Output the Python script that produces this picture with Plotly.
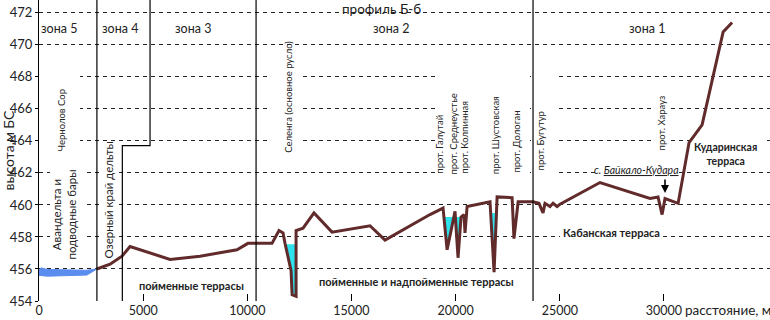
import plotly.graph_objects as go

# ---------------- data ----------------
# river profile: distance (m) and elevation (m, Baltic system)
dist = [2780, 3410, 3985, 4370, 6290, 7730, 9505, 10030, 11185, 11520, 11715, 11810,
        12100, 12150, 12340, 12340, 12675, 13200, 14065, 15890, 16610, 18770, 19395,
        19590, 19970, 20115, 20260, 20400, 20450, 20550, 21650, 21845, 21990, 22710,
        22800, 23000, 23715, 24000, 24195, 24290, 24530, 24675, 24870, 25010, 26930,
        29330, 29715, 29910, 30050, 30680, 31205, 31830, 32840, 33270]
elev = [456.0, 456.3, 456.8, 457.4, 456.6, 456.8, 457.2, 457.6, 457.6, 458.4, 458.25, 457.6,
        455.9, 454.4, 454.3, 458.4, 458.55, 459.5, 458.3, 458.7, 457.8, 459.4, 459.8,
        457.2, 459.6, 456.7, 459.25, 459.4, 458.25, 459.9, 460.2, 455.8, 460.5, 460.45,
        457.9, 460.2, 460.2, 460.1, 459.5, 460.1, 459.9, 460.1, 459.9, 460.05, 461.4,
        460.4, 460.5, 459.4, 460.4, 460.1, 463.9, 465.0, 470.8, 471.4]

# water in channels (cyan polygons)
selenga_x = [11800, 12100, 12150, 12340, 12340]
selenga_y = [457.55, 455.9, 454.4, 454.3, 457.55]
galutai_x = [19436, 19590, 19915]
galutai_y = [459.25, 457.2, 459.25]
sredn_x = [19987, 20115, 20260]
sredn_y = [459.25, 456.7, 459.25]
shust_x = [21681, 21845, 21959]
shust_y = [459.5, 455.8, 459.5]

# avandelta (blue body)
avan_x = [0, 100, 400, 2300, 2780, 2300, 400, 150, 0]
avan_y = [455.95, 456.07, 455.97, 455.92, 456.0, 455.62, 455.55, 455.6, 455.6]

# zone boundaries (distance, m)
zone_bounds = [2780, 10420, 23715]
zone4_step_x = [4000, 4000, 5330, 5330]
zone4_step_y = [454, 463.7, 463.7, 473]

zone_names = ["зона 5", "зона 4", "зона 3", "зона 2", "зона 1"]
zone_label_x = [960, 3890, 7400, 16900, 29200]

x_ticks = [0, 5000, 10000, 15000, 20000, 25000, 30000]
y_ticks = [454, 456, 458, 460, 462, 464, 466, 468, 470, 472]

FONT = "Lato"
TXT = "#222222"
LINE = "#622b2b"
Y_TOP = 472.8

fig = go.Figure()

# white boxes behind texts (interrupt the dotted gridlines)
boxes = [(0, 1970, 463.5, 468.6), (530, 2210, 457.5, 462.4), (3020, 3650, 457.9, 462.4),
         (11090, 12620, 463.5, 468.6), (19010, 23570, 461.5, 468.6),
         (23760, 24910, 461.5, 468.6), (29500, 30180, 463.2, 466.9),
         (31250, 34850, 462.6, 464.3), (25010, 29900, 457.7, 458.8),
         (26740, 30670, 461.6, 462.6)]
for x0, x1, y0, y1 in boxes:
    fig.add_trace(go.Scatter(x=[x0, x1, x1, x0, x0], y=[y0, y0, y1, y1, y0], fill="toself",
                             mode="none", fillcolor="white", hoverinfo="skip", showlegend=False))

fig.add_trace(go.Scatter(x=avan_x, y=avan_y, fill="toself", mode="lines",
                         fillcolor="#5b8def", line=dict(color="#5b8def", width=1),
                         hoverinfo="skip", showlegend=False))
for cx, cy in [(selenga_x, selenga_y), (galutai_x, galutai_y), (sredn_x, sredn_y), (shust_x, shust_y)]:
    fig.add_trace(go.Scatter(x=cx, y=cy, fill="toself", mode="lines",
                             fillcolor="#2fe3ee", line=dict(color="#2fe3ee", width=0.5),
                             hoverinfo="skip", showlegend=False))

fig.add_trace(go.Scatter(x=dist, y=elev, mode="lines",
                         line=dict(color=LINE, width=3), showlegend=False))

# zone boundaries
for xb in zone_bounds:
    fig.add_trace(go.Scatter(x=[xb, xb], y=[454, 473], mode="lines",
                             line=dict(color="black", width=1.2), showlegend=False))
fig.add_trace(go.Scatter(x=zone4_step_x, y=zone4_step_y, mode="lines",
                         line=dict(color="black", width=1.2), showlegend=False))

ann = []
def A(text, x, y, size=12, angle=0, bold=False, italic=False, xa="center", ya="middle", **kw):
    t = text
    if bold:
        t = "<b>" + t + "</b>"
    if italic:
        t = "<i>" + t + "</i>"
    ann.append(dict(text=t, x=x, y=y, xref="x", yref="y", showarrow=False, textangle=angle,
                    font=dict(family=FONT, size=size, color=TXT), xanchor=xa, yanchor=ya, **kw))

for name, zx in zip(zone_names, zone_label_x):
    A(name, zx, 471.0, size=12.5)
A("профиль Б-б", 16460, Y_TOP, size=13.5, ya="top", borderpad=0)

A("Чернолов Сор", 1060, 465.3, size=9.5, angle=-90)
A("Авандельта и<br>подводные бары", 1200, 459.4, size=11.5, angle=-90)
A("Озерный край дельты", 3330, 460.3, size=11.5, angle=-90)
A("Селенга (основное русло)", 12000, 466.75, size=9.5, angle=-90)
A("прот. Галутай", 19250, 461.8, size=9.5, angle=-90, ya="bottom")
A("прот. Среднеустье", 19920, 461.8, size=9.5, angle=-90, ya="bottom")
A("прот. Колпинная", 20450, 461.8, size=9.5, angle=-90, ya="bottom")
A("прот. Шустовская", 21890, 461.8, size=9.5, angle=-90, ya="bottom")
A("прот. Дологан", 22900, 461.9, size=9.5, angle=-90, ya="bottom")
A("прот. Бугутур", 24050, 462.0, size=9.5, angle=-90, ya="bottom")
A("прот. Харауз", 29860, 463.25, size=9.5, angle=-90, ya="bottom")

A("пойменные террасы", 7340, 454.95, size=11, bold=True)
A("пойменные и надпойменные террасы", 18100, 455.2, size=11, bold=True)
A("Кабанская терраса", 27460, 458.25, size=11, bold=True)
A("Кударинская<br>терраса", 32950, 463.2, size=10.5, bold=True)
A("с. <u>Байкало-Кудара</u>", 28700, 462.2, size=10.5, italic=True)

# arrow to the village
ann.append(dict(x=30050, y=460.75, xref="x", yref="y", ax=0, ay=-15, showarrow=True,
                arrowhead=2, arrowsize=1, arrowwidth=1.6, arrowcolor="black", text=""))

# axis titles
ann.append(dict(text="высота,м БС", xref="paper", yref="paper", x=0, y=0.5, xshift=-31,
                xanchor="center", yanchor="middle",
                textangle=-90, showarrow=False, font=dict(family=FONT, size=14, color=TXT)))
ann.append(dict(text="расстояние, м", xref="x", yref="paper", x=33070, y=0, yanchor="top",
                xanchor="center", yshift=0, borderpad=0,
                showarrow=False, font=dict(family=FONT, size=13.5, color=TXT)))

fig.update_layout(
    width=770, height=320,
    margin=dict(l=39, r=0, t=0, b=19, autoexpand=False),
    plot_bgcolor="white", paper_bgcolor="white",
    annotations=ann,
    showlegend=False,
    font=dict(family=FONT, size=13, color=TXT),
)
fig.update_xaxes(range=[0, 35090], tickvals=x_ticks, ticktext=[str(v) for v in x_ticks],
                 showgrid=False, zeroline=False, showline=False, automargin=False,
                 ticks="inside", ticklen=7, tickcolor="black", tickwidth=1,
                 tickfont=dict(family=FONT, size=12.5, color=TXT))
fig.update_yaxes(range=[454, Y_TOP], tickvals=y_ticks, ticktext=[str(v) for v in y_ticks],
                 showgrid=True, gridcolor="#222", griddash="4px,4px", gridwidth=1,
                 zeroline=False, showline=True, linecolor="black", linewidth=1.3,
                 ticks="outside", ticklen=3, tickcolor="black", automargin=False,
                 tickfont=dict(family=FONT, size=13, color=TXT))

fig.write_html("out.html", config={"displayModeBar": False},
               post_script="document.body.style.margin='0';document.body.style.overflow='hidden';")
